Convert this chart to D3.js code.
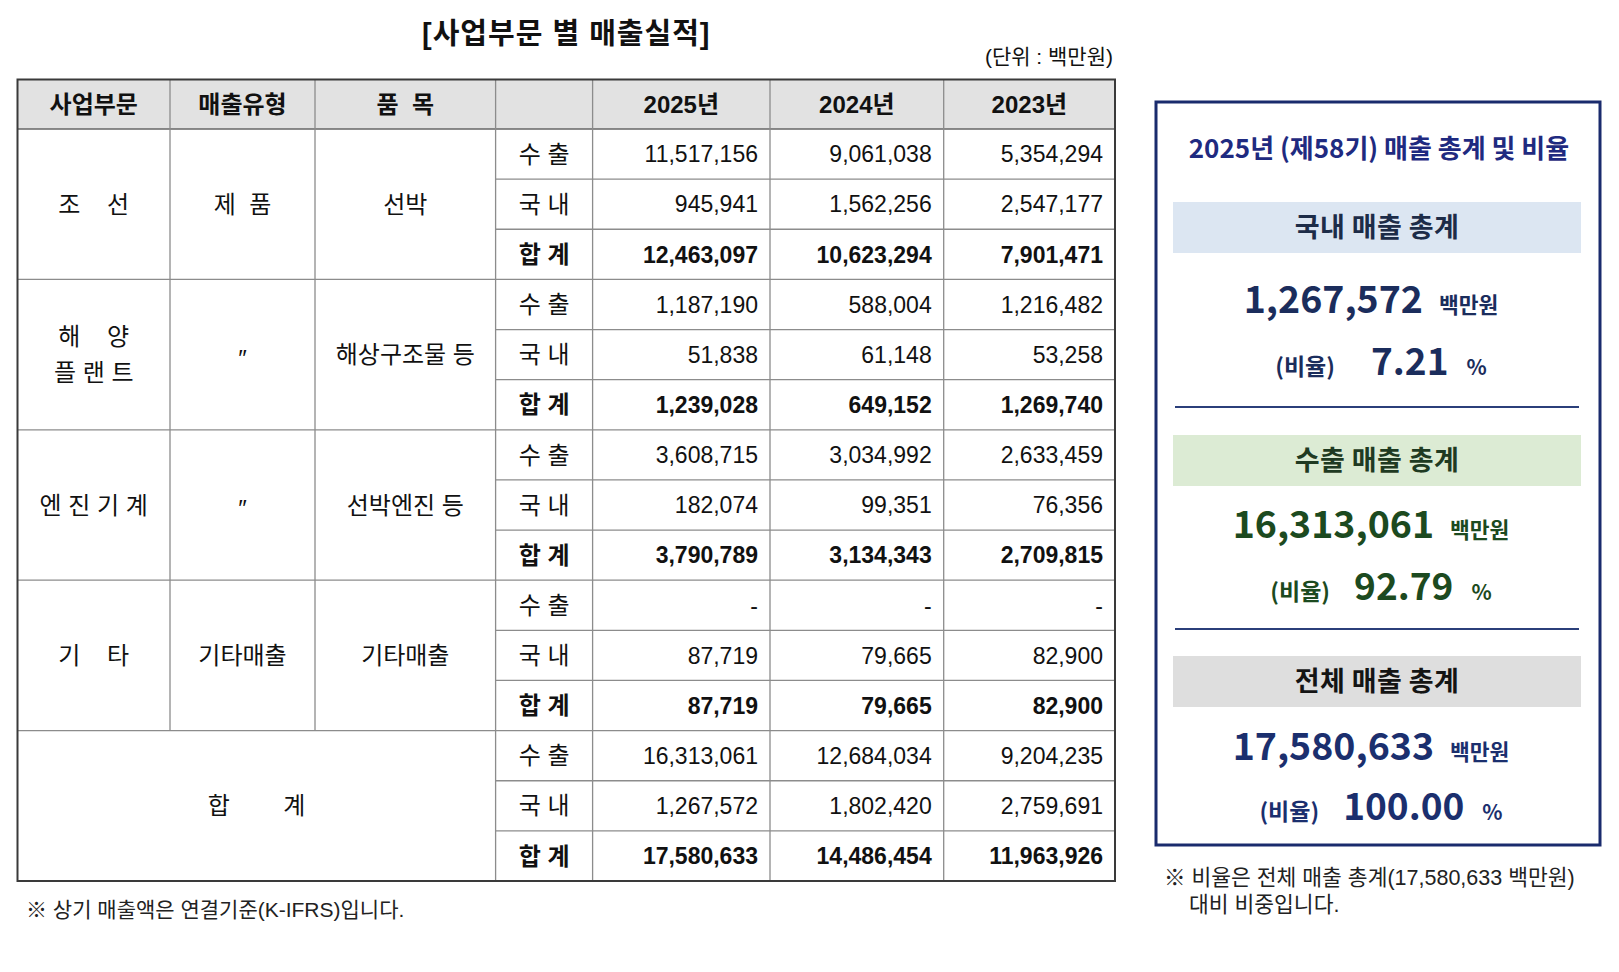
<!DOCTYPE html>
<html>
  <head>
    <meta charset="UTF-8">
    <title>사업부문 별 매출실적</title>
    <script src="https://d3js.org/d3.v7.min.js"></script>
    <style>
      body { margin: 0; background: #fff; }
      svg text { white-space: pre; }
      .tbl { font-family: "Liberation Sans", "Noto Sans CJK KR", sans-serif; font-size: 23px; fill: #111; }
      .lbl { font-size: 24px; }
      .panel { font-family: "Noto Sans CJK KR", "Noto Sans", sans-serif; font-weight: 700; }
    </style>
  </head>
  <body>
    <div id="chart"></div>
    <script>

      // ---- data ----
      const years = ["2025년", "2024년", "2023년"];
      const headerLabels = ["사업부문", "매출유형", "품  목", ""];
      const segments = [["조    선"], ["해    양", "플 랜 트"], ["엔 진 기 계"], ["기    타"]];
      const salesTypes = ["제  품", "″", "″", "기타매출"];
      const products = ["선박", "해상구조물 등", "선박엔진 등", "기타매출"];
      const rowKinds = ["수 출", "국 내", "합 계"];
      const grandLabel = "합        계";

      const exportValues = [
        [11517156, 9061038, 5354294],
        [1187190, 588004, 1216482],
        [3608715, 3034992, 2633459],
        [null, null, null]
      ];
      const domesticValues = [
        [945941, 1562256, 2547177],
        [51838, 61148, 53258],
        [182074, 99351, 76356],
        [87719, 79665, 82900]
      ];
      const totalValues = [
        [12463097, 10623294, 7901471],
        [1239028, 649152, 1269740],
        [3790789, 3134343, 2709815],
        [87719, 79665, 82900]
      ];
      const grandExport = [16313061, 12684034, 9204235];
      const grandDomestic = [1267572, 1802420, 2759691];
      const grandTotal = [17580633, 14486454, 11963926];

      const summaryTitle = "2025년 (제58기) 매출 총계 및 비율";
      const summaryLabels = ["국내 매출 총계", "수출 매출 총계", "전체 매출 총계"];
      const summaryAmounts = [1267572, 16313061, 17580633];
      const summaryRatios = [7.21, 92.79, 100.00];

      // ---- layout ----
      const width = 1619, height = 972;
      const colX = [17.5, 170, 315, 495.6, 592.6, 770, 943.7, 1115];
      const tableTop = 79.5, headTop = 129, tableBottom = 881;

      const svg = d3.select("#chart")
        .append("svg")
        .attr("width", width)
        .attr("height", height);

      svg.append("rect").attr("width", width).attr("height", height).attr("fill", "#fff");

      // rows: 5 groups x 3 kinds
      const rows = [];
      for (let g = 0; g < 5; g++) {
        rowKinds.forEach((k, i) => {
          let vals;
          if (g < 4) vals = [exportValues, domesticValues, totalValues][i][g];
          else vals = [grandExport, grandDomestic, grandTotal][i];
          rows.push({ group: g, kind: k, bold: i === 2, values: vals });
        });
      }

      const y = d3.scaleBand()
        .domain(d3.range(rows.length))
        .range([headTop, tableBottom]);

      const fmt = d3.format(",");

      // title + unit
      svg.append("text")
        .attr("class", "tbl")
        .attr("x", (colX[0] + colX[7]) / 2)
        .attr("y", 44)
        .attr("text-anchor", "middle")
        .style("font-size", "29px")
        .style("letter-spacing", "1px")
        .style("font-weight", "bold")
        .text("[사업부문 별 매출실적]");

      svg.append("text")
        .attr("class", "tbl")
        .attr("x", 1113)
        .attr("y", 64)
        .attr("text-anchor", "end")
        .style("font-size", "21px")
        .text("(단위 : 백만원)");

      const table = svg.append("g");

      // header background
      table.append("rect")
        .attr("x", colX[0]).attr("y", tableTop)
        .attr("width", colX[7] - colX[0]).attr("height", headTop - tableTop)
        .attr("fill", "#e2e2e2");

      const headY = (tableTop + headTop) / 2;
      headerLabels.concat(years).forEach((h, i) => {
        table.append("text")
          .attr("class", "tbl lbl")
          .attr("x", (colX[i] + colX[i + 1]) / 2)
          .attr("y", headY)
          .attr("dy", ".36em")
          .attr("text-anchor", "middle")
          .style("font-weight", "bold")
          .text(h);
      });

      // grid lines
      const lineColor = "#8c8c8c";
      for (let r = 1; r < rows.length; r++) {
        const x0 = (r % 3 === 0) ? colX[0] : colX[3];
        table.append("line")
          .attr("x1", x0).attr("x2", colX[7])
          .attr("y1", y(r)).attr("y2", y(r))
          .attr("stroke", lineColor).attr("stroke-width", 1.3);
      }
      table.append("line")
        .attr("x1", colX[0]).attr("x2", colX[7])
        .attr("y1", headTop).attr("y2", headTop)
        .attr("stroke", "#666").attr("stroke-width", 1.5);

      colX.slice(1, 7).forEach((cx, i) => {
        const yEnd = (i < 2) ? y(12) : tableBottom;
        table.append("line")
          .attr("x1", cx).attr("x2", cx)
          .attr("y1", tableTop).attr("y2", yEnd)
          .attr("stroke", lineColor).attr("stroke-width", 1.3);
      });

      table.append("rect")
        .attr("x", colX[0]).attr("y", tableTop)
        .attr("width", colX[7] - colX[0]).attr("height", tableBottom - tableTop)
        .attr("fill", "none")
        .attr("stroke", "#3a3a3a").attr("stroke-width", 2);

      // group labels (segment, type, product)
      const groupMid = g => y(g * 3) + y.bandwidth() * 1.5;
      segments.forEach((lines, g) => {
        lines.forEach((ln, j) => {
          table.append("text")
            .attr("class", "tbl lbl")
            .attr("x", (colX[0] + colX[1]) / 2)
            .attr("y", groupMid(g) + (j - (lines.length - 1) / 2) * 36)
            .attr("dy", ".36em")
            .attr("text-anchor", "middle")
            .text(ln);
        });
        table.append("text")
          .attr("class", "tbl lbl")
          .attr("x", (colX[1] + colX[2]) / 2)
          .attr("y", groupMid(g))
          .attr("dy", salesTypes[g] === "″" ? ".5em" : ".36em")
          .attr("text-anchor", "middle")
          .text(salesTypes[g]);
        table.append("text")
          .attr("class", "tbl lbl")
          .attr("x", (colX[2] + colX[3]) / 2)
          .attr("y", groupMid(g))
          .attr("dy", ".36em")
          .attr("text-anchor", "middle")
          .text(products[g]);
      });

      table.append("text")
        .attr("class", "tbl lbl")
        .attr("x", (colX[0] + colX[3]) / 2)
        .attr("y", groupMid(4))
        .attr("dy", ".36em")
        .attr("text-anchor", "middle")
        .text(grandLabel);

      // row kinds + values
      const rowG = table.selectAll("g.row")
        .data(rows)
        .enter()
        .append("g")
        .attr("class", "row")
        .attr("transform", (d, i) => `translate(0, ${y(i) + y.bandwidth() / 2})`);

      rowG.append("text")
        .attr("class", "tbl lbl")
        .attr("x", (colX[3] + colX[4]) / 2)
        .attr("dy", ".36em")
        .attr("text-anchor", "middle")
        .style("font-weight", d => d.bold ? "bold" : "normal")
        .text(d => d.kind);

      rowG.selectAll("text.val")
        .data(d => d.values.map(v => ({ v, bold: d.bold })))
        .enter()
        .append("text")
        .attr("class", "tbl val")
        .attr("x", (d, i) => colX[i + 5] - 12)
        .attr("dy", ".36em")
        .attr("text-anchor", "end")
        .style("font-weight", d => d.bold ? "bold" : "normal")
        .text(d => d.v == null ? "-" : fmt(d.v));

      // footnote
      svg.append("text")
        .attr("class", "tbl")
        .attr("x", 26)
        .attr("y", 917)
        .style("font-size", "21px")
        .style("fill", "#222")
        .text("※ 상기 매출액은 연결기준(K-IFRS)입니다.");

      // ---- summary panel ----
      const box = { x: 1156, y: 102, w: 444, h: 743 };
      const panel = svg.append("g").attr("class", "panel");

      panel.append("rect")
        .attr("x", box.x).attr("y", box.y)
        .attr("width", box.w).attr("height", box.h)
        .attr("fill", "#fff")
        .attr("stroke", "#1a2b6d").attr("stroke-width", 3);

      panel.append("text")
        .attr("x", box.x + box.w / 2 + 1)
        .attr("y", 158)
        .attr("text-anchor", "middle")
        .style("font-size", "26px")
        .style("fill", "#1f2a80")
        .text(summaryTitle);

      const bandTops = [202, 435, 656];
      const amountBase = [313, 538, 760];
      const ratioBase = [375, 600, 820];
      const sepY = [407, 629];
      const bandFill = ["#dce6f2", "#dcebd4", "#dedede"];
      const bandText = ["#1d2c48", "#1f3a22", "#141414"];
      const numColor = ["#1b2d5c", "#1c4a20", "#1b2f6e"];
      const bandX0 = 1173, bandX1 = 1581;
      const midX = (bandX0 + bandX1) / 2;

      summaryLabels.forEach((label, i) => {
        panel.append("rect")
          .attr("x", bandX0).attr("y", bandTops[i])
          .attr("width", bandX1 - bandX0).attr("height", 51)
          .attr("fill", bandFill[i]);

        panel.append("text")
          .attr("x", midX)
          .attr("y", bandTops[i] + 25.5)
          .attr("dy", ".36em")
          .attr("text-anchor", "middle")
          .style("font-size", "27px")
          .style("letter-spacing", "0.4px")
          .style("fill", bandText[i])
          .text(label);

        // amount + unit, centred as a group
        const g1 = panel.append("g");
        const amt = g1.append("text")
          .attr("y", amountBase[i])
          .style("font-size", "37.5px")
          .style("fill", numColor[i])
          .text(fmt(summaryAmounts[i]));
        const aw = amt.node().getComputedTextLength();
        const unit = g1.append("text")
          .attr("x", aw + 16)
          .attr("y", amountBase[i])
          .style("font-size", "21.5px")
          .style("fill", numColor[i])
          .text("백만원");
        const gw = aw + 16 + unit.node().getComputedTextLength();
        g1.attr("transform", `translate(${1371 - gw / 2}, 0)`);

        // ratio row
        const g2 = panel.append("g");
        const lab = g2.append("text")
          .attr("y", ratioBase[i])
          .style("font-size", "23px")
          .style("fill", numColor[i])
          .text("(비율)");
        const lw = lab.node().getComputedTextLength();
        const gap = i === 0 ? 36 : 24;
        const rv = g2.append("text")
          .attr("x", lw + gap)
          .attr("y", ratioBase[i])
          .style("font-size", "37px")
          .style("fill", numColor[i])
          .text(d3.format(".2f")(summaryRatios[i]));
        const rw = rv.node().getComputedTextLength();
        const pct = g2.append("text")
          .attr("x", lw + gap + rw + 18)
          .attr("y", ratioBase[i])
          .style("font-size", "21px")
          .style("fill", numColor[i])
          .text("%");
        const tw = lw + gap + rw + 18 + pct.node().getComputedTextLength();
        g2.attr("transform", `translate(${1381 - tw / 2}, 0)`);
      });

      sepY.forEach(sy => {
        panel.append("line")
          .attr("x1", 1175).attr("x2", 1579)
          .attr("y1", sy).attr("y2", sy)
          .attr("stroke", "#2b3f7a").attr("stroke-width", 1.8);
      });

      // panel footnote
      const note = svg.append("g")
        .attr("class", "tbl")
        .style("font-size", "21.5px")
        .style("fill", "#222");
      note.append("text").attr("x", 1164).attr("y", 885)
        .text("※ 비율은 전체 매출 총계(17,580,633 백만원)");
      note.append("text").attr("x", 1189).attr("y", 912)
        .text("대비 비중입니다.");

    </script>
  </body>
</html>
